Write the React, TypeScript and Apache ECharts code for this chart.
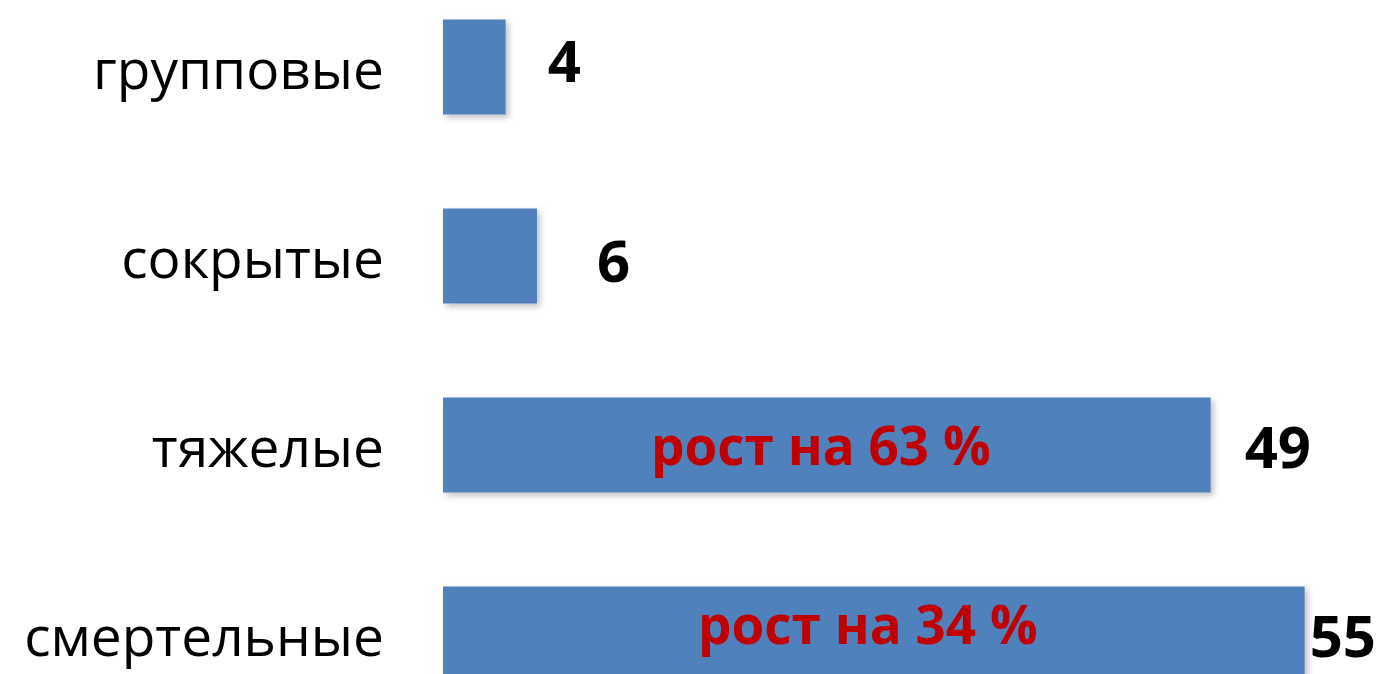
import React, { useEffect, useRef } from "react";
import * as echarts from "echarts";

const categories = ["групповые", "сокрытые", "тяжелые", "смертельные"];
const values = [4, 6, 49, 55];
const annotations = ["", "", "рост на 63 %", "рост на 34 %"];
const valueLabelDistance = [42, 60, 34, 5];
const valueLabelOffsetY = [-8, 3, 0, 0];
const annotationOffset = [[0, 0], [0, 0], [-6, -1], [-6, -11]];

export default function App() {
  const ref = useRef<HTMLDivElement>(null);
  useEffect(() => {
    if (!ref.current) return;
    const chart = echarts.init(ref.current, undefined, { renderer: "svg" });
    chart.setOption({
      animation: false,
      backgroundColor: "#ffffff",
      grid: { left: 443, right: 1, top: 0.5, height: 756, containLabel: false },
      xAxis: {
        type: "value",
        min: 0,
        max: 60,
        show: false,
        splitLine: { show: false },
      },
      yAxis: {
        type: "category",
        data: categories,
        inverse: true,
        axisLine: { show: false },
        axisTick: { show: false },
        axisLabel: {
          margin: 59,
          color: "#000000",
          fontFamily: "Open Sans",
          fontSize: 55,
          padding: [0, 0, 10, 0],
        },
      },
      series: [
        {
          type: "bar",
          barWidth: 95,
          data: values.map((v, i) => ({
            value: v,
            label: {
              show: true,
              position: "right",
              distance: valueLabelDistance[i],
              offset: [0, valueLabelOffsetY[i]],
              color: "#000000",
              fontFamily: "Open Sans",
              fontWeight: "bold",
              fontSize: 58,
            },
          })),
          itemStyle: {
            color: "#4F81BD",
            shadowBlur: 6,
            shadowColor: "rgba(0,0,0,0.25)",
            shadowOffsetX: 3,
            shadowOffsetY: 3,
          },
        },
        {
          type: "bar",
          barWidth: 95,
          barGap: "-100%",
          silent: true,
          data: values.map((v, i) => ({
            value: v,
            label: {
              show: annotations[i] !== "",
              position: "inside",
              offset: annotationOffset[i],
              formatter: annotations[i],
              color: "#C00000",
              fontFamily: "Open Sans",
              fontWeight: "bold",
              fontSize: 53,
            },
          })),
          itemStyle: { color: "rgba(0,0,0,0)" },
        },
      ],
    });
    return () => chart.dispose();
  }, []);
  return (
    <div
      style={{
        position: "absolute",
        left: 0,
        top: 0,
        width: 1384,
        height: 674,
        overflow: "hidden",
        background: "#ffffff",
      }}
    >
      <div
        ref={ref}
        style={{ position: "absolute", left: 0, top: -28, width: 1384, height: 784 }}
      />
    </div>
  );
}
